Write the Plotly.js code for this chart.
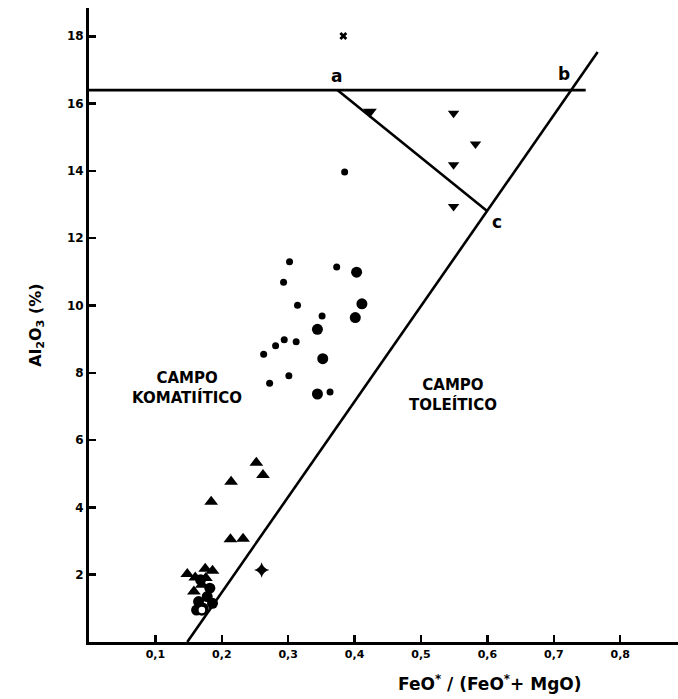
<!DOCTYPE html>
<html>
<head>
<meta charset="utf-8">
<script src="https://cdn.plot.ly/plotly-3.0.1.min.js"></script>
<style>html,body{margin:0;padding:0;background:#fff;}#chart{width:678px;height:699px;}</style>
</head>
<body>
<div id="chart"></div>
<script>
// ---- data ----
const smallDotX = [0.302, 0.373, 0.293, 0.314, 0.351, 0.294, 0.281, 0.312, 0.263, 0.301, 0.272, 0.363, 0.385];
const smallDotY = [11.30, 11.14, 10.69, 10.01, 9.69, 8.98, 8.80, 8.92, 8.55, 7.91, 7.69, 7.43, 13.97];

const largeDotX = [0.403, 0.411, 0.401, 0.344, 0.352, 0.344, 0.168, 0.182, 0.165, 0.172, 0.186, 0.162, 0.178];
const largeDotY = [10.99, 10.05, 9.64, 9.29, 8.42, 7.37, 1.85, 1.60, 1.20, 1.00, 1.15, 0.95, 1.35];

const triX = [0.252, 0.262, 0.214, 0.184, 0.213, 0.232, 0.148, 0.160, 0.175, 0.186, 0.170, 0.158, 0.176];
const triY = [5.33, 4.96, 4.76, 4.17, 3.05, 3.07, 2.02, 1.92, 2.18, 2.12, 1.70, 1.50, 1.90];

const vX = [0.549, 0.582, 0.549, 0.549];
const vY = [15.71, 14.80, 14.18, 12.94];

const starX = [0.423];
const starY = [15.76];

const crossX = [0.383];
const crossY = [18.01];

const diamondX = [0.260];
const diamondY = [2.14];

const ringX = [0.170];
const ringY = [0.95];

// reference lines
const lineAbX = [0, 0.748];
const lineAbY = [16.4, 16.4];
const lineAcX = [0.374, 0.600];
const lineAcY = [16.4, 12.8];
const lineDiagX = [0.148, 0.766];
const lineDiagY = [0, 17.53];

const xTickVals = [0.1, 0.2, 0.3, 0.4, 0.5, 0.6, 0.7, 0.8];
const xTickText = ["0,1", "0,2", "0,3", "0,4", "0,5", "0,6", "0,7", "0,8"];
const yTickVals = [2, 4, 6, 8, 10, 12, 14, 16, 18];
const yTickText = ["2", "4", "6", "8", "10", "12", "14", "16", "18"];

const pointLabels = ["a", "b", "c"];
const pointLabelX = [0.373, 0.715, 0.615];
const pointLabelY = [16.82, 16.88, 12.48];

const fieldLabels = ["CAMPO<br>KOMATIÍTICO", "CAMPO<br>TOLEÍTICO"];
const fieldLabelX = [0.147, 0.548];
const fieldLabelY = [7.55, 7.34];

// ---- traces ----
const K = "#000";
const lineStyle = {color: K, width: 2.6};
const traces = [
  {x: lineAbX, y: lineAbY, mode: "lines", line: lineStyle},
  {x: lineAcX, y: lineAcY, mode: "lines", line: lineStyle},
  {x: lineDiagX, y: lineDiagY, mode: "lines", line: lineStyle},
  {x: smallDotX, y: smallDotY, mode: "markers", marker: {symbol: "circle", size: 7, color: K}},
  {x: largeDotX, y: largeDotY, mode: "markers", marker: {symbol: "circle", size: 11, color: K}},
  {x: triX, y: triY, mode: "markers", marker: {symbol: "triangle-up", size: 12, color: K}},
  {x: vX, y: vY, mode: "markers", marker: {symbol: "triangle-down", size: 10, color: K}},
  {x: starX, y: starY, mode: "markers", marker: {symbol: "triangle-down", size: 12, color: K}},
  {x: crossX, y: crossY, mode: "markers", marker: {symbol: "x", size: 7, color: K}},
  {x: diamondX, y: diamondY, mode: "markers", marker: {symbol: "star-diamond", size: 11, color: K}},
  {x: ringX, y: ringY, mode: "markers", marker: {symbol: "circle", size: 9, color: "#fff", line: {color: K, width: 2.5}}}
];

const annotations = [];
pointLabels.forEach((t, i) => annotations.push({
  x: pointLabelX[i], y: pointLabelY[i], xref: "x", yref: "y", text: t, showarrow: false,
  font: {family: "DejaVu Sans", size: 17, color: K, weight: "bold"}
}));
fieldLabels.forEach((t, i) => annotations.push({
  x: fieldLabelX[i], y: fieldLabelY[i], xref: "x", yref: "y", text: t, showarrow: false,
  align: "center", xanchor: "center",
  font: {family: "DejaVu Sans", size: 15, color: K, weight: "bold"}
}));
annotations.push({
  x: (490 - 89) / (678 - 89), y: -(683 - 642) / (699 - 8 - 57),
  xref: "paper", yref: "paper", xanchor: "center", yanchor: "middle", showarrow: false,
  text: "FeO<sup>*</sup> / (FeO<sup>*</sup>+ MgO)",
  font: {family: "DejaVu Sans", size: 17, color: K, weight: "bold"}
});

const layout = {
  width: 678, height: 699,
  margin: {l: 89, r: 0, t: 8, b: 57},
  paper_bgcolor: "#fff", plot_bgcolor: "#fff",
  showlegend: false,
  xaxis: {
    range: [0, 0.887], showgrid: false, zeroline: false,
    showline: true, linecolor: K, linewidth: 3,
    tickmode: "array", tickvals: xTickVals, ticktext: xTickText,
    ticks: "inside", ticklen: 7, tickwidth: 2.5, tickcolor: K,
    tickfont: {family: "DejaVu Sans", size: 11, color: K, weight: "bold"}
  },
  yaxis: {
    range: [0, 18.84], showgrid: false, zeroline: false,
    showline: true, linecolor: K, linewidth: 3,
    tickmode: "array", tickvals: yTickVals, ticktext: yTickText,
    ticks: "inside", ticklen: 7, tickwidth: 2.5, tickcolor: K,
    tickfont: {family: "DejaVu Sans", size: 12, color: K, weight: "bold"},
    title: {text: "Al<sub>2</sub>O<sub>3</sub> (%)", standoff: 22,
      font: {family: "DejaVu Sans", size: 16, color: K, weight: "bold"}}
  },
  annotations: annotations
};

Plotly.newPlot("chart", traces, layout, {displayModeBar: false, staticPlot: true});
</script>
</body>
</html>
